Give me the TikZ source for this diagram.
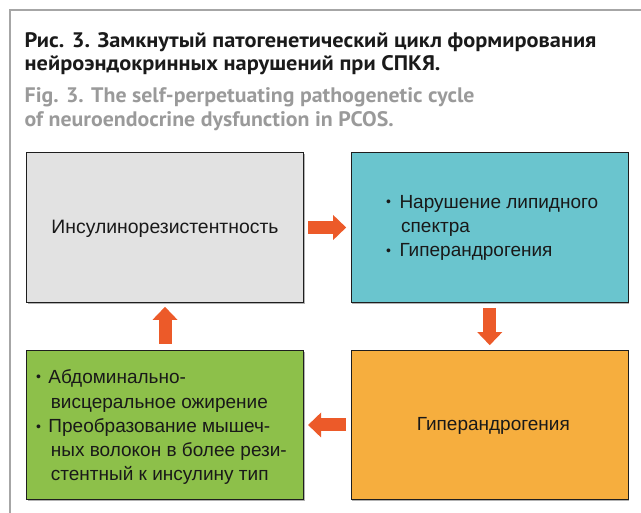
\documentclass[tikz,border=0pt]{standalone}
\usepackage{fontspec}
\setmainfont{Liberation Sans}
\newfontfamily\titlefont{PT Sans}[FakeStretch=1.065]
\newfontfamily\titlefonten{PT Sans}[FakeStretch=1.04]
\usetikzlibrary{arrows.meta,shadows}
\definecolor{framegray}{HTML}{A6A6A6}
\definecolor{titleblack}{HTML}{1A1A1A}
\definecolor{titlegray}{HTML}{9A9A9A}
\definecolor{boxline}{HTML}{1E1E1E}
\definecolor{fillgray}{HTML}{E2E2E2}
\definecolor{fillteal}{HTML}{6AC5CE}
\definecolor{fillgreen}{HTML}{8DC04A}
\definecolor{fillorange}{HTML}{F6AE3E}
\definecolor{arrred}{HTML}{EC5A29}
\tikzset{
  box/.style={draw=boxline, line width=1.2pt, minimum width=277pt, minimum height=149.5pt, inner sep=0pt,
    general shadow={shadow xshift=1pt, shadow yshift=-1.5pt, fill=black!30}},
  ttl/.style={font=\titlefont\bfseries\fontsize{21}{24}\selectfont, text=titleblack, inner sep=0pt, anchor=base west},
  ttlen/.style={font=\titlefonten\bfseries\fontsize{21}{24}\selectfont, text=titlegray, inner sep=0pt, anchor=base west},
  txt/.style={font=\fontsize{19}{23}\selectfont, text=black!90, inner sep=0pt},
  bul/.style={font=\fontsize{14}{16}\selectfont, text=black!90, inner sep=0pt, anchor=base west},
  blockarrow/.style={draw=arrred, line width=13pt, -{Triangle[width=25pt,length=13pt,line width=0pt]}}
}
\begin{document}
\begin{tikzpicture}[x=1pt,y=-1pt]
\useasboundingbox (0,0) rectangle (641,513);
% frame
\draw[framegray, line width=1.5pt] (10,513) -- (10,10) -- (641,10);
% title
\node[ttl] (ti1) at (24.5,47.5) {Рис. 3. Замкнутый патогенетический цикл формирования};
\node[ttl] (ti2) at (24.5,71) {нейроэндокринных нарушений при СПКЯ.};
\node[ttlen] (ti3) at (24.5,103) {Fig. 3. The self-perpetuating pathogenetic cycle};
\node[ttlen] (ti4) at (24.5,126.5) {of neuroendocrine dysfunction in PCOS.};
% boxes
\node[box, fill=fillgray] (ins) at (165,227.5) {};
\node[box, fill=fillteal] (lip) at (489.75,227.5) {};
\node[box, fill=fillgreen] (obe) at (165,425) {};
\node[box, fill=fillorange] (hyp) at (489.75,425) {};
% texts
\node[txt, anchor=base, font=\fontsize{19.4}{23}\selectfont] (tins) at (165,233.3) {Инсулинорезистентность};
\node[txt, anchor=base] (thyp) at (493.3,430.7) {Гиперандрогения};
\node[bul] (bl1) at (386,206.8) {•};
\node[txt, anchor=base west] (tl1) at (399.3,208.3) {Нарушение липидного};
\node[txt, anchor=base west] (tl2) at (401,232.5) {спектра};
\node[bul] (bl2) at (386,255.2) {•};
\node[txt, anchor=base west] (tl3) at (399.3,256.7) {Гиперандрогения};
\node[bul] (bo1) at (36,381.8) {•};
\node[txt, anchor=base west] (to1) at (48.3,383.3) {Абдоминально-};
\node[txt, anchor=base west] (to2) at (50.7,408.3) {висцеральное ожирение};
\node[bul] (bo2) at (36,431.2) {•};
\node[txt, anchor=base west] (to3) at (48.3,432.7) {Преобразование мышеч-};
\node[txt, anchor=base west] (to4) at (50.7,456.9) {ных волокон в более рези-};
\node[txt, anchor=base west] (to5) at (50.7,481) {стентный к инсулину тип};
% arrows
\draw[blockarrow] ([xshift=4pt]ins.east) -- ([xshift=-4.5pt]lip.west);
\draw[blockarrow] ([yshift=-5pt]lip.south) -- ([yshift=4.5pt]hyp.north);
\draw[blockarrow] ([xshift=-4.5pt]hyp.west) -- ([xshift=4pt]obe.east);
\draw[blockarrow] ([yshift=6pt]obe.north) -- ([yshift=-4pt]ins.south);
\end{tikzpicture}
\end{document}
